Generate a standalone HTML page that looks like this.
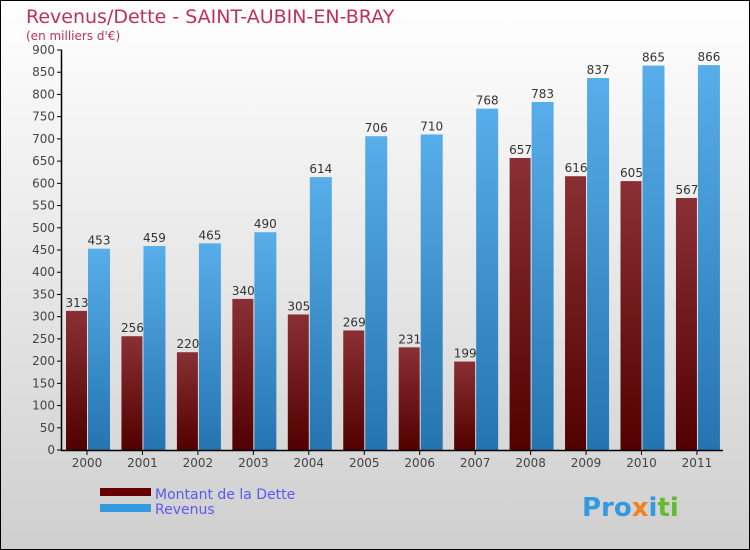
<!DOCTYPE html>
<html><head><meta charset="utf-8"><style>
body{margin:0;width:750px;height:550px;overflow:hidden}
svg{display:block;font-family:"DejaVu Sans","Liberation Sans",sans-serif}
</style></head><body>
<svg id="c" width="750" height="550">
<defs>
<linearGradient id="bg" x1="0" y1="0" x2="0" y2="1"><stop offset="0" stop-color="#ffffff"/><stop offset="1" stop-color="#cfcfcf"/></linearGradient>
<linearGradient id="gd" x1="0" y1="0" x2="0" y2="1"><stop offset="0" stop-color="#8a3034"/><stop offset="1" stop-color="#520000"/></linearGradient>
<linearGradient id="gr" x1="0" y1="0" x2="0" y2="1"><stop offset="0" stop-color="#58aeea"/><stop offset="1" stop-color="#2474b0"/></linearGradient>
</defs>
<rect x="0.5" y="0.5" width="749" height="549" fill="url(#bg)" stroke="#000"/>
<text x="26" y="23" font-size="19" fill="#c0305e">Revenus/Dette - SAINT-AUBIN-EN-BRAY</text>
<text x="26" y="40" font-size="12" fill="#c0305e">(en milliers d'€)</text>
<g id="plot"></g>
<rect x="100" y="488" width="51" height="8" fill="#660000"/>
<text x="155" y="499" font-size="14" fill="#5a5af0">Montant de la Dette</text>
<rect x="100" y="504" width="51" height="8" fill="#3399e0"/>
<text x="155" y="514" font-size="14" fill="#5a5af0">Revenus</text>
<text x="582" y="516" font-size="26" font-weight="bold"><tspan fill="#3399e0">Pro</tspan><tspan fill="#f08020">x</tspan><tspan fill="#3399e0">i</tspan><tspan fill="#66bb33">ti</tspan></text>
</svg>
<script>
const years=["2000","2001","2002","2003","2004","2005","2006","2007","2008","2009","2010","2011"];
const debt=[313,256,220,340,305,269,231,199,657,616,605,567];
const revenue=[453,459,465,490,614,706,710,768,783,837,865,866];
const ticks=[0,50,100,150,200,250,300,350,400,450,500,550,600,650,700,750,800,850,900];
const NS="http://www.w3.org/2000/svg";
const g=document.getElementById('plot');
const y=v=>450-v*400/900;
const cx=i=>87+i*55.45;
function mk(t,a,txt){const e=document.createElementNS(NS,t);for(const k in a)e.setAttribute(k,a[k]);if(txt!==undefined)e.textContent=txt;g.appendChild(e);return e;}
ticks.forEach(v=>{
 const l=mk('line',{x1:57,x2:62,y1:y(v),y2:y(v),stroke:'#000'});
 
 
 const t=mk('text',{x:55,y:y(v)+4,'font-size':12,'text-anchor':'end',fill:'#444'},v);
 
 
});
years.forEach((yr,i)=>{
 const c=cx(i);
 const b1=mk('rect',{x:c-21,y:y(debt[i]),width:21,height:450-y(debt[i]),fill:'url(#gd)'});
 
 
 const b2=mk('rect',{x:c+1,y:y(revenue[i]),width:22,height:450-y(revenue[i]),fill:'url(#gr)'});
 
 
 const l1=mk('text',{x:c-10,y:y(debt[i])-4,'font-size':12,'text-anchor':'middle',fill:'#333'},debt[i]);
 
 
 const l2=mk('text',{x:c+12,y:y(revenue[i])-4,'font-size':12,'text-anchor':'middle',fill:'#333'},revenue[i]);
 
 
 const tk=mk('line',{x1:c,x2:c,y1:450,y2:455,stroke:'#000'});
 
 
 const xl=mk('text',{x:c,y:467,'font-size':12,'text-anchor':'middle',fill:'#444'},yr);
 
 
});
const ya=mk('line',{x1:61.5,x2:61.5,y1:50,y2:451,stroke:'#000','stroke-width':1.5});


const xa=mk('line',{x1:61,x2:723,y1:450.5,y2:450.5,stroke:'#000','stroke-width':1.5});


</script>
</body></html>
